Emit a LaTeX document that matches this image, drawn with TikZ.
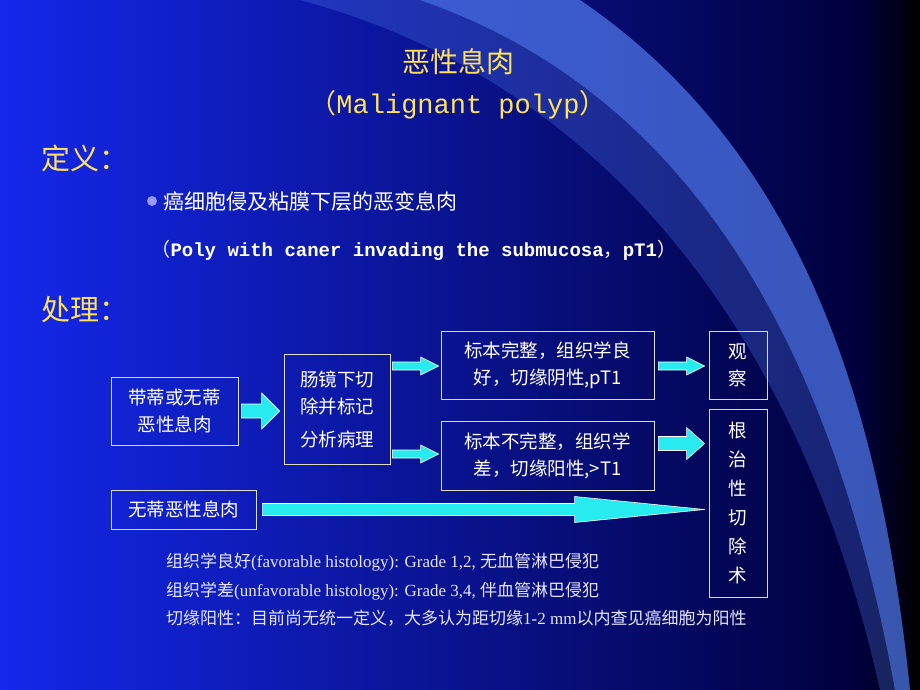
\documentclass[tikz,border=0pt]{standalone}
\usepackage{fontspec}
\setmainfont{Liberation Serif}
\newfontfamily\cjk{Noto Sans CJK SC}
\newfontfamily\mono{Liberation Mono}
\usetikzlibrary{arrows.meta,calc}
\definecolor{ttl}{RGB}{255,225,90}
\definecolor{bgL}{RGB}{20,40,235}
\definecolor{bgR}{RGB}{0,0,60}
\definecolor{sweep}{RGB}{80,120,235}
\definecolor{arr}{RGB}{40,235,240}
\definecolor{bd}{RGB}{220,220,200}
\tikzset{
 box/.style={draw=bd,line width=0.8pt,text=white,font=\cjk\fontsize{18.5}{27}\selectfont,align=center,inner sep=0pt},
 blk/.style={draw=white,line width=0.6pt,fill=arr},
}
\newcommand{\barrow}[4]{%
 \path let \p1=#1, \p2=#2 in
 [blk] (\x1,\y1+#3) -- (\x2-18,\y1+#3) -- (\x2-18,\y1+#4) -- (\x2,\y1) -- (\x2-18,\y1-#4) -- (\x2-18,\y1-#3) -- (\x1,\y1-#3) -- cycle;}
\begin{document}
\begin{tikzpicture}[x=1pt,y=-1pt]
\useasboundingbox (0,0) rectangle (920,690);
\shade[left color=bgL,right color=bgR] (0,0) rectangle (860,690);
\shade[left color=bgR,right color=black] (860,0) rectangle (920,690);
\fill[sweep,opacity=0.3] (300,0) .. controls (600,80) and (800,330) .. (880,690) -- (910,690) .. controls (880,400) and (800,150) .. (580,0) -- cycle;
\fill[sweep,opacity=0.6] (420,0) .. controls (680,90) and (830,330) .. (895,690) -- (910,690) .. controls (880,400) and (800,150) .. (580,0) -- cycle;
% titles
\node[text=ttl,font=\cjk\fontsize{28}{34}\selectfont] (t1) at (458,62) {恶性息肉};
\node[text=ttl,font=\fontsize{27}{32}\selectfont] (t2) at (458,105) {{\cjk（}{\mono Malignant polyp}{\cjk）}};
\node[text=ttl,font=\cjk\fontsize{29}{34}\selectfont,anchor=west] (d1) at (38,158) {定义：};
\fill[white!60!blue] (152,201) circle (5);
\node[text=white,font=\cjk\fontsize{21}{26}\selectfont,anchor=west] (d2) at (160,202) {癌细胞侵及粘膜下层的恶变息肉};
\node[text=white,font=\fontsize{19}{24}\selectfont,anchor=west] (d3) at (148,250) {{\cjk（}{\mono\bfseries Poly with caner invading the submucosa}{\cjk，}{\mono\bfseries pT1}{\cjk）}};
\node[text=ttl,font=\cjk\fontsize{29}{34}\selectfont,anchor=west] (d4) at (38,310) {处理：};
% boxes
\node[box,minimum width=127,minimum height=68] (A) at (174.5,411) {带蒂或无蒂\\恶性息肉};
\node[box,minimum width=106,minimum height=110] (B) at (337,409) {肠镜下切\\除并标记\\[6pt]分析病理};
\node[box,minimum width=213,minimum height=68] (C) at (547.5,365) {标本完整，组织学良\\好，切缘阴性,pT1};
\node[box,minimum width=213,minimum height=69] (D) at (547.5,455.5) {标本不完整，组织学\\差，切缘阳性,>T1};
\node[box,minimum width=58,minimum height=68] (E) at (738,365) {观\\察};
\node[box,minimum width=58,minimum height=188,font=\cjk\fontsize{18.5}{29}\selectfont] (F) at (738,503) {根\\治\\性\\切\\除\\术};
\node[box,minimum width=145,minimum height=39] (G) at (183.5,509.5) {无蒂恶性息肉};
% arrows
\barrow{($(A.east)+(3,0)$)}{($(B.west)+(-4,0)$)}{7}{18}
\barrow{($(B.east)+(2,-43)$)}{($(C.west)+(-2,1)$)}{4}{9}
\barrow{($(B.east)+(2,45)$)}{($(D.west)+(-2,-1.5)$)}{4}{9}
\barrow{($(C.east)+(4,1)$)}{($(E.west)+(-4,1)$)}{4}{9}
\barrow{($(D.east)+(4,-12)$)}{($(F.west)+(-4,-60)$)}{7}{16}
\path let \p1=($(G.east)+(6,0)$), \p2=($(F.west)+(-4,6)$) in
 [blk] (\x1,\y1+6) -- (\x2-130,\y1+6) -- (\x2-130,\y1+13) -- (\x2,\y1) -- (\x2-130,\y1-13) -- (\x2-130,\y1-6) -- (\x1,\y1-6) -- cycle;
% notes
\begin{scope}[every node/.style={text=white!90!blue,anchor=west,font=\fontsize{17}{20}\selectfont,inner sep=0pt}]
\node (n1) at (166,562) {{\cjk 组织学良好}(favorable histology): Grade 1,2, {\cjk 无血管淋巴侵犯}};
\node (n2) at (166,591) {{\cjk 组织学差}(unfavorable histology): Grade 3,4, {\cjk 伴血管淋巴侵犯}};
\node (n3) at (166,618) {{\cjk 切缘阳性：目前尚无统一定义，大多认为距切缘}1-2 mm{\cjk 以内查见癌细胞为阳性}};
\end{scope}
\end{tikzpicture}
\end{document}
